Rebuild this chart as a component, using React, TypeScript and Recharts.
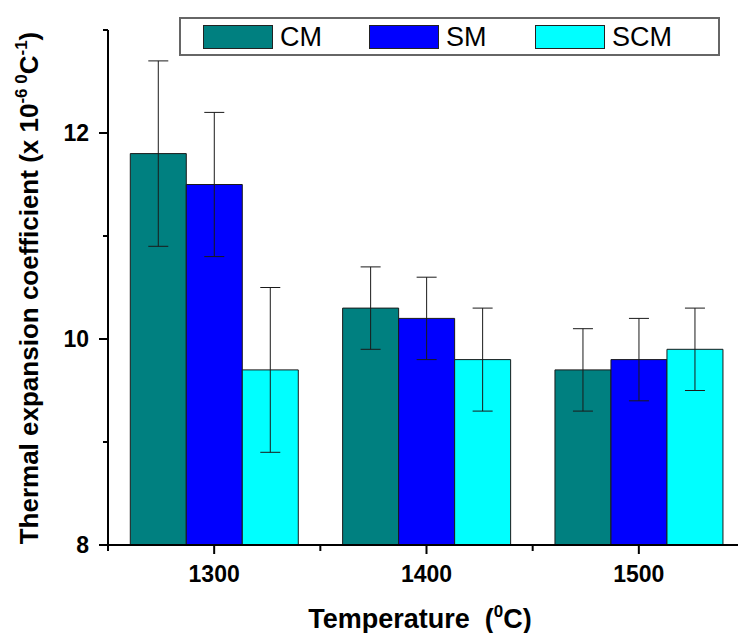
import { BarChart, Bar, XAxis, YAxis, ErrorBar } from "recharts";

const temps = ["1300", "1400", "1500"];
const cm = [11.8, 10.3, 9.7];
const cmErr = [0.9, 0.4, 0.4];
const sm = [11.5, 10.2, 9.8];
const smErr = [0.7, 0.4, 0.4];
const scm = [9.7, 9.8, 9.9];
const scmErr = [0.8, 0.5, 0.4];
const yTicks = [8, 9, 10, 11, 12, 13];
const yLabelled = [8, 10, 12];

const SERIES = [
  { key: "cm", err: "cmErr", name: "CM", color: "#008080" },
  { key: "sm", err: "smErr", name: "SM", color: "#0000ff" },
  { key: "scm", err: "scmErr", name: "SCM", color: "#00ffff" },
];

const data = temps.map((t, i) => ({
  temp: t,
  cm: cm[i],
  cmErr: cmErr[i],
  sm: sm[i],
  smErr: smErr[i],
  scm: scm[i],
  scmErr: scmErr[i],
}));

const W = 762;
const H = 633;
const M = { top: 30, right: 17, left: 0, bottom: 0 };
const Y_W = 108;
const X_H = 88;
const BAND = (W - M.left - M.right - Y_W) / temps.length;
const FONT = "'Liberation Sans', Arial, sans-serif";

function YTick(props: any) {
  const { x, y, payload } = props;
  const major = yLabelled.includes(payload.value);
  return (
    <g>
      <line x1={x - (major ? 9 : 5)} x2={x} y1={y} y2={y} stroke="#000" strokeWidth={2} />
      {major && (
        <text x={x - 19} y={y + 8} textAnchor="end" fontSize={23} fontWeight="bold" fill="#000" fontFamily={FONT}>
          {payload.value}
        </text>
      )}
    </g>
  );
}

function XTick(props: any) {
  const { x, y, payload, index } = props;
  return (
    <g>
      <line x1={x} x2={x} y1={y} y2={y + 9} stroke="#000" strokeWidth={2} />
      <line x1={x - BAND / 2} x2={x - BAND / 2} y1={y} y2={y + 6} stroke="#000" strokeWidth={2} />
      {index === temps.length - 1 && (
        <line x1={x + BAND / 2} x2={x + BAND / 2} y1={y} y2={y + 6} stroke="#000" strokeWidth={2} />
      )}
      <text x={x} y={y + 37} textAnchor="middle" fontSize={23} fontWeight="bold" fill="#000" fontFamily={FONT}>
        {payload.value}
      </text>
    </g>
  );
}

function LegendBox() {
  return (
    <div
      style={{
        position: "absolute",
        left: 179,
        top: 17,
        width: 541,
        height: 39,
        border: "2px solid #666",
        fontFamily: FONT,
        fontSize: 27,
        background: "#fff",
        boxSizing: "border-box",
      }}
    >
      {SERIES.map((s, i) => (
        <div
          key={s.key}
          style={{ position: "absolute", left: 22 + i * 166, top: 6, display: "flex", alignItems: "center", height: 24 }}
        >
          <div style={{ width: 70, height: 24, background: s.color, border: "1px solid #222", boxSizing: "border-box" }} />
          <span style={{ marginLeft: 7, lineHeight: "24px" }}>{s.name}</span>
        </div>
      ))}
    </div>
  );
}

export default function App() {
  return (
    <div style={{ position: "fixed", left: 0, top: 0, width: 738, height: 633, overflow: "hidden", background: "#fff" }}>
      <BarChart width={W} height={H} data={data} margin={M} barCategoryGap="10.5%" barGap={0}>
        <XAxis
          dataKey="temp"
          height={X_H}
          tickSize={0}
          tickMargin={0}
          tickLine={false}
          axisLine={{ stroke: "#000", strokeWidth: 2 }}
          tick={<XTick />}
          interval={0}
          label={{
            content: () => (
              <text x={420} y={628} textAnchor="middle" fontSize={27} fontWeight="bold" fill="#000" fontFamily={FONT}>
                Temperature{"\u00a0\u00a0"}(<tspan dy={-11} fontSize={17}>0</tspan>
                <tspan dy={11}>C)</tspan>
              </text>
            ),
          }}
        />
        <YAxis
          width={Y_W}
          domain={[8, 13]}
          ticks={yTicks}
          interval={0}
          tickSize={0}
          tickMargin={0}
          tickLine={false}
          axisLine={{ stroke: "#000", strokeWidth: 2 }}
          tick={<YTick />}
          label={{
            content: () => (
              <text
                transform="translate(38, 288) rotate(-90)"
                textAnchor="middle"
                fontSize={26}
                fontWeight="bold"
                fill="#000"
                fontFamily={FONT}
              >
                Thermal expansion coefficient (x 10<tspan dy={-11} fontSize={17}>-6</tspan>
                <tspan dy={0} fontSize={17}>{" 0"}</tspan>
                <tspan dy={11}>C</tspan>
                <tspan dy={-11} fontSize={17}>-1</tspan>
                <tspan dy={11}>)</tspan>
              </text>
            ),
          }}
        />
        {SERIES.map((s) => (
          <Bar key={s.key} dataKey={s.key} name={s.name} fill={s.color} stroke="#1a1a1a" strokeWidth={1} isAnimationActive={false}>
            <ErrorBar dataKey={s.err} width={10} stroke="#1a1a1a" strokeWidth={1} direction="y" />
          </Bar>
        ))}
      </BarChart>
      <LegendBox />
    </div>
  );
}
